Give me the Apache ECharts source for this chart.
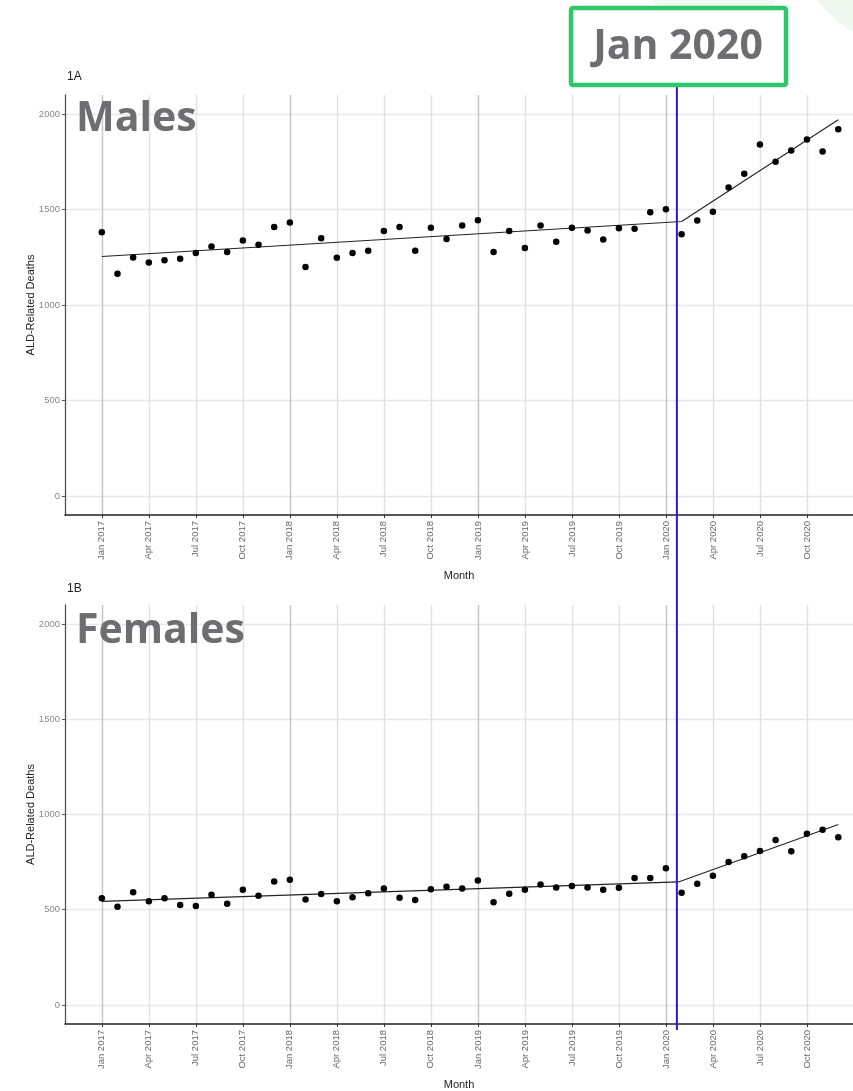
<!DOCTYPE html>
<html>
<head>
<meta charset="utf-8">
<script src="https://cdn.jsdelivr.net/npm/echarts@6/dist/echarts.min.js"></script>
<style>
html,body{margin:0;padding:0;background:#fff;}
#chart{width:853px;height:1091px;}
</style>
</head>
<body>
<div id="chart"></div>
<script>
// Month index 0 = Jan 2017 ... 47 = Dec 2020
const tickLabels = ['Jan 2017','Apr 2017','Jul 2017','Oct 2017','Jan 2018','Apr 2018','Jul 2018','Oct 2018',
  'Jan 2019','Apr 2019','Jul 2019','Oct 2019','Jan 2020','Apr 2020','Jul 2020','Oct 2020'];
const tickMonths = [0,3,6,9,12,15,18,21,24,27,30,33,36,39,42,45];
const yTicks = [0,500,1000,1500,2000];

const malesDeaths = [1381,1164,1249,1223,1234,1242,1272,1307,1277,1338,1315,1409,
  1432,1199,1349,1247,1273,1284,1387,1409,1284,1404,1346,1416,
  1444,1277,1387,1298,1416,1331,1404,1390,1343,1402,1399,1486,
  1502,1371,1442,1488,1615,1687,1841,1750,1809,1867,1804,1921];
const femalesDeaths = [560,516,592,544,560,525,519,578,531,605,573,648,
  657,554,582,545,565,586,612,563,551,607,621,612,
  654,539,584,605,633,617,625,617,605,615,666,666,
  718,589,636,678,751,781,808,866,807,899,920,881];

const malesTrendMonth = [0,37,47];
const malesTrendValue = [1254,1437,1970];
const femalesTrendMonth = [0,36.8,47];
const femalesTrendValue = [544,646,948];

const breakMonth = 36.7; // "Jan 2020" marker line

const chart = echarts.init(document.getElementById('chart'), null, {renderer:'canvas'});
const FONT = 'Liberation Sans';

function xAxisFor(gi){
  return {
    type:'value', gridIndex:gi, min:-2.35, max:47.94,
    name:'Month', nameLocation:'middle', nameGap:55,
    nameTextStyle:{color:'#222', fontSize:11, fontFamily:FONT},
    axisLine:{show:true, onZero:false, lineStyle:{color:'#222', width:1.6}},
    axisTick:{show:true, customValues:tickMonths, length:3, lineStyle:{color:'#333'}},
    axisLabel:{customValues:tickMonths, rotate:90, fontSize:9.5, color:'#666', fontFamily:FONT, margin:6,
      formatter:v => tickLabels[tickMonths.indexOf(Math.round(v))] || ''},
    splitLine:{show:false}
  };
}
function yAxisFor(gi){
  return {
    type:'value', gridIndex:gi, min:-100, max:2100,
    name:'ALD-Related Deaths', nameLocation:'middle', nameGap:29, nameMoveOverlap:false,
    nameTextStyle:{color:'#222', fontSize:11, fontFamily:FONT},
    axisLine:{show:true, onZero:false, lineStyle:{color:'#555', width:1.3}},
    axisTick:{show:true, customValues:yTicks, length:3, lineStyle:{color:'#555'}},
    axisLabel:{customValues:yTicks, fontSize:9.5, color:'#888', fontFamily:FONT, margin:5,
      formatter:v => String(v)},
    splitLine:{show:false}
  };
}
function gridLines(gi){
  const data = [];
  yTicks.forEach(v => data.push({yAxis:v, lineStyle:{color:'#e8e8e8', width:1.4, type:'solid'}}));
  tickMonths.forEach((m,i) => data.push({xAxis:m, lineStyle:{color: (i%4===0)?'#c4c4c4':'#e2e2e2', width:1.4, type:'solid'}}));
  return {
    type:'line', xAxisIndex:gi, yAxisIndex:gi, data:[], z:0, silent:true, animation:false,
    markLine:{symbol:'none', silent:true, animation:false, z:0, label:{show:false}, data:data}
  };
}
function trend(gi, xs, ys){
  return {type:'line', xAxisIndex:gi, yAxisIndex:gi, data: xs.map((x,i)=>[x, ys[i]]),
    symbol:'none', lineStyle:{color:'#222', width:1.1}, z:3, animation:false, silent:true};
}
function points(gi, vals){
  return {type:'scatter', xAxisIndex:gi, yAxisIndex:gi, data: vals.map((v,i)=>[i,v]),
    symbolSize:6.5, itemStyle:{color:'#000', opacity:1}, z:4, animation:false, silent:true};
}

const titleStyle = {fill:'#6e6d72', fontFamily:'Open Sans', fontWeight:'bold', fontSize:41};

chart.setOption({
  animation:false,
  backgroundColor:'#fff',
  grid:[
    {left:65, top:95, right:0, height:420},
    {left:65, top:605, right:0, height:421}
  ],
  xAxis:[xAxisFor(0), xAxisFor(1)],
  yAxis:[yAxisFor(0), yAxisFor(1)],
  series:[
    gridLines(0), gridLines(1),
    trend(0, malesTrendMonth, malesTrendValue),
    trend(1, femalesTrendMonth, femalesTrendValue),
    points(0, malesDeaths),
    points(1, femalesDeaths)
  ],
  graphic:[
    {type:'circle', id:'c1', shape:{cx:715, cy:-60, r:87}, style:{fill:'#f2f9f2'}, z:-10, silent:true},
    {type:'circle', id:'c2', shape:{cx:895, cy:-50, r:92}, style:{fill:'#eef8ee'}, z:-10, silent:true},
    {type:'text', id:'t1a', left:67, top:71, style:{text:'1A', fill:'#222', fontSize:12, fontFamily:FONT}},
    {type:'text', id:'t1b', left:67, top:583, style:{text:'1B', fill:'#222', fontSize:12, fontFamily:FONT}},
    {type:'text', id:'tm', left:76, top:99, z:20, style:Object.assign({text:'Males'}, titleStyle)},
    {type:'text', id:'tf', left:76, top:611, z:20, style:Object.assign({text:'Females'}, titleStyle)},
    {type:'rect', id:'box', shape:{x:571, y:8, width:215, height:77, r:2},
      style:{fill:'#fff', stroke:'#2ec86a', lineWidth:4.5}, z:30},
    {type:'text', id:'tj', z:31, style:Object.assign({text:'Jan 2020', x:678, y:47, align:'center', verticalAlign:'middle'}, titleStyle)}
  ]
});

const px = chart.convertToPixel({xAxisIndex:0, yAxisIndex:0}, [breakMonth, 0])[0];
chart.setOption({
  graphic:[
    {type:'line', id:'breakline', shape:{x1:px, y1:87, x2:px, y2:1030},
      style:{stroke:'#3d0fd6', lineWidth:2}, z:25, silent:true}
  ]
});
</script>
</body>
</html>
